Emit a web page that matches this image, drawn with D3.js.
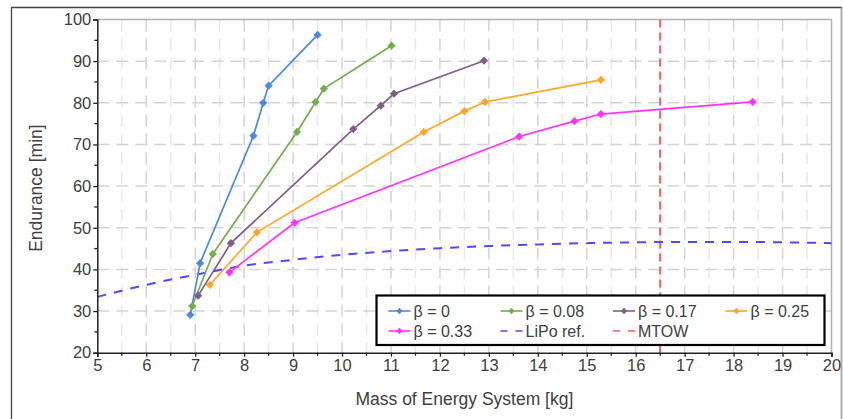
<!DOCTYPE html>
<html>
<head>
<meta charset="utf-8">
<script src="https://cdn.jsdelivr.net/npm/d3@7"></script>
<style>
  html, body { margin: 0; padding: 0; background: #fff; }
  svg { display: block; font-family: "Liberation Sans", Arial, sans-serif; }
</style>
</head>
<body>
<svg id="chart" width="843" height="419"></svg>
<script>
// ---------- DATA ----------
const seriesNames = ["β = 0", "β = 0.08", "β = 0.17", "β = 0.25", "β = 0.33"];
const massB0   = [6.90, 7.10, 8.19, 8.39, 8.50, 9.50];
const endB0    = [29.1, 41.5, 72.1, 80.0, 84.1, 96.3];
const massB008 = [6.94, 7.36, 9.08, 9.46, 9.63, 11.01];
const endB008  = [31.2, 43.7, 73.0, 80.2, 83.4, 93.7];
const massB017 = [7.06, 7.73, 10.23, 10.79, 11.06, 12.90];
const endB017  = [33.7, 46.3, 73.7, 79.3, 82.2, 90.1];
const massB025 = [7.30, 8.26, 11.67, 12.50, 12.92, 15.29];
const endB025  = [36.3, 48.9, 73.0, 78.0, 80.2, 85.5];
const massB033 = [7.70, 9.03, 13.62, 14.75, 15.29, 18.39];
const endB033  = [39.3, 51.2, 71.9, 75.6, 77.3, 80.2];
const lipoMass = [5, 6, 7, 8, 9, 10, 11, 12, 13, 14, 15, 16, 17, 18, 19, 20];
const lipoEnd  = [33.4, 36.3, 38.7, 40.9, 42.3, 43.5, 44.4, 45.1, 45.6, 46.0, 46.3, 46.5, 46.6, 46.6, 46.5, 46.3];
const mtowMass = 16.5;
const xTicks = [5, 6, 7, 8, 9, 10, 11, 12, 13, 14, 15, 16, 17, 18, 19, 20];
const yTicks = [20, 30, 40, 50, 60, 70, 80, 90, 100];
const xLabel = "Mass of Energy System [kg]";
const yLabel = "Endurance [min]";
const lipoName = "LiPo ref.";
const mtowName = "MTOW";

// ---------- STYLE ----------
const colors = ["#4a89e8", "#72ae4e", "#7d5f87", "#ffa726", "#ff33ff"];
const lipoColor = "#4b4bff";
const mtowColor = "#ff5a5a";
const textColor = "#404040";

const svg = d3.select("#chart");
const L = 97.3, R = 831.5, T = 19.5, B = 352.7;

const x = d3.scaleLinear().domain([5, 20]).range([L, R]);
const y = d3.scaleLinear().domain([20, 100]).range([B, T]);

// outer frame
svg.append("path").attr("d", `M11.5,419 V7.5 H841.5 V419`)
  .attr("fill", "none").attr("stroke", "#444").attr("stroke-width", 1.3);
svg.append("line").attr("x1", 841.5).attr("x2", 841.5).attr("y1", 7.5).attr("y2", 419)
  .attr("stroke", "#aaa").attr("stroke-width", 1.3);

const grid = svg.append("g");
const minorX = d3.range(5.5, 20, 1);
grid.selectAll(".vminor").data(minorX).enter().append("line")
  .attr("x1", d => x(d)).attr("x2", d => x(d)).attr("y1", T).attr("y2", B)
  .attr("stroke", "#e8e8e8").attr("stroke-width", 1.5).attr("stroke-dasharray", "12,7");
grid.selectAll(".vmajor").data(xTicks.slice(1, -1)).enter().append("line")
  .attr("x1", d => x(d)).attr("x2", d => x(d)).attr("y1", T).attr("y2", B)
  .attr("stroke", "#d4d4d4").attr("stroke-width", 1.5).attr("stroke-dasharray", "12,7");
grid.selectAll(".hmajor").data(yTicks.slice(1, -1)).enter().append("line")
  .attr("x1", L).attr("x2", R).attr("y1", d => y(d)).attr("y2", d => y(d))
  .attr("stroke", "#d4d4d4").attr("stroke-width", 1.5).attr("stroke-dasharray", "12,7");

svg.append("path").attr("d", `M${L},${T} H${R} V${B}`)
  .attr("fill", "none").attr("stroke", "#b0b0b0").attr("stroke-width", 1.5);

// MTOW line
svg.append("line")
  .attr("x1", x(mtowMass)).attr("x2", x(mtowMass)).attr("y1", T).attr("y2", B)
  .attr("stroke", mtowColor).attr("stroke-width", 2).attr("stroke-dasharray", "8,5");

// LiPo reference
const lipoData = lipoMass.map((m, i) => [m, lipoEnd[i]]);
svg.append("path").datum(lipoData)
  .attr("d", d3.line().x(d => x(d[0])).y(d => y(d[1])).curve(d3.curveMonotoneX))
  .attr("fill", "none").attr("stroke", lipoColor).attr("stroke-width", 2)
  .attr("stroke-dasharray", "9,8");

// series
const allMass = [massB0, massB008, massB017, massB025, massB033];
const allEnd = [endB0, endB008, endB017, endB025, endB033];
const diamond = d3.symbol().type(d3.symbolSquare).size(34);
const diamondSmall = d3.symbol().type(d3.symbolSquare).size(20);
seriesNames.forEach((name, si) => {
  const data = allMass[si].map((m, i) => [m, allEnd[si][i]]);
  const g = svg.append("g");
  g.append("path").datum(data)
    .attr("d", d3.line().x(d => x(d[0])).y(d => y(d[1])))
    .attr("fill", "none").attr("stroke", colors[si]).attr("stroke-width", 1.7);
  g.selectAll("path.m").data(data).enter().append("path").attr("class", "m")
    .attr("d", diamond)
    .attr("transform", d => `translate(${x(d[0])},${y(d[1])}) rotate(45)`)
    .attr("fill", colors[si]);
});

// axes
const xAxis = svg.append("g").attr("transform", `translate(0,${B})`)
  .call(d3.axisBottom(x).tickValues(xTicks).tickFormat(d3.format("d")).tickSize(4).tickPadding(3));
const yAxis = svg.append("g").attr("transform", `translate(${L},0)`)
  .call(d3.axisLeft(y).tickValues(yTicks).tickFormat(d3.format("d")).tickSize(4).tickPadding(2));
svg.append("g").selectAll("line").data(minorX).enter().append("line")
  .attr("x1", d => x(d)).attr("x2", d => x(d)).attr("y1", B).attr("y2", B + 3)
  .attr("stroke", "#222").attr("stroke-width", 1.3);
svg.append("g").selectAll("line").data(d3.range(25, 100, 10)).enter().append("line")
  .attr("x1", L - 3).attr("x2", L).attr("y1", d => y(d)).attr("y2", d => y(d))
  .attr("stroke", "#222").attr("stroke-width", 1.3);
[xAxis, yAxis].forEach(a => {
  a.select(".domain").attr("stroke", "#222").attr("stroke-width", 1.5);
  a.selectAll(".tick line").attr("stroke", "#222").attr("stroke-width", 1.3);
  a.selectAll("text").attr("fill", textColor).style("font-size", "16.5px")
    .style("font-family", "'Liberation Sans', Arial, sans-serif");
});

// axis labels
svg.append("text").attr("x", (L + R) / 2).attr("y", 405).attr("text-anchor", "middle")
  .attr("fill", textColor).style("font-size", "17.5px").text(xLabel);
svg.append("text").attr("transform", `translate(41.5,${(T + B) / 2 + 2}) rotate(-90)`)
  .attr("text-anchor", "middle").attr("fill", textColor).style("font-size", "17.5px").text(yLabel);

// legend
const lg = svg.append("g");
lg.append("rect").attr("x", 376.5).attr("y", 295.5).attr("width", 448).attr("height", 49.5)
  .attr("fill", "#fff").attr("stroke", "#000").attr("stroke-width", 2.2);
const colX = [388.5, 500.5, 613, 725.5];
const rowY = [311, 331];
const legendItems = seriesNames.map((n, i) => ({ name: n, color: colors[i], type: "series" }))
  .concat([{ name: lipoName, color: lipoColor, type: "dash" }, { name: mtowName, color: mtowColor, type: "dash" }]);
legendItems.forEach((it, i) => {
  const cx = colX[i % 4], cy = rowY[Math.floor(i / 4)];
  if (it.type === "series") {
    lg.append("line").attr("x1", cx).attr("x2", cx + 22).attr("y1", cy).attr("y2", cy)
      .attr("stroke", it.color).attr("stroke-width", 1.6);
    lg.append("path").attr("d", diamondSmall)
      .attr("transform", `translate(${cx + 11},${cy}) rotate(45)`).attr("fill", it.color);
  } else {
    lg.append("line").attr("x1", cx).attr("x2", cx + 22).attr("y1", cy).attr("y2", cy)
      .attr("stroke", it.color).attr("stroke-width", 1.6).attr("stroke-dasharray", "7,8");
  }
  lg.append("text").attr("x", cx + 25).attr("y", cy + 5.5)
    .attr("fill", textColor).style("font-size", "16px").text(it.name);
});
</script>
</body>
</html>
